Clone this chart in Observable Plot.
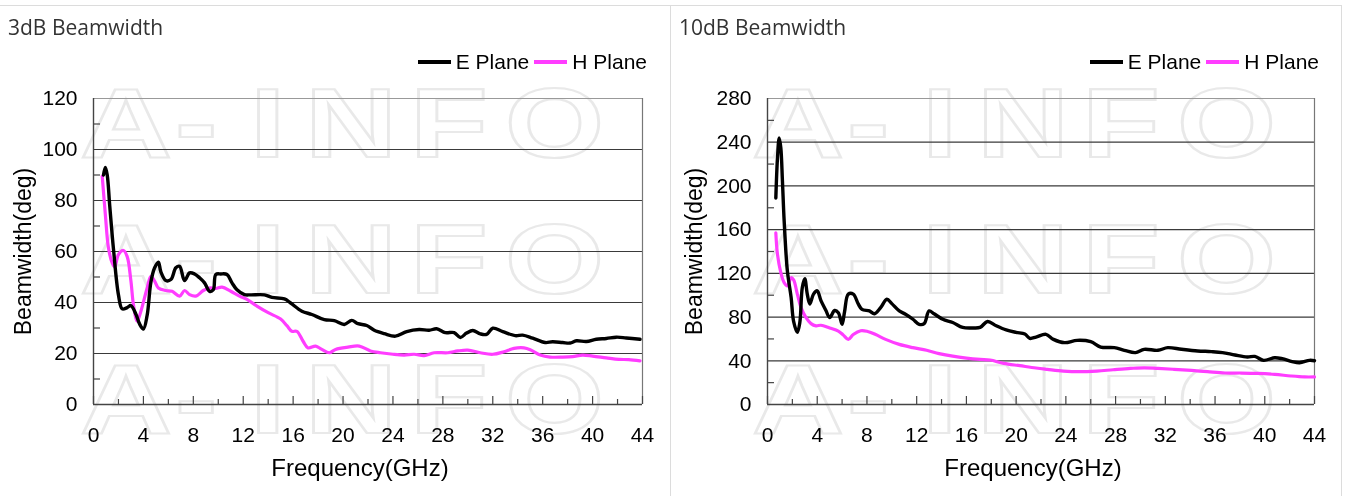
<!DOCTYPE html>
<html>
<head>
<meta charset="utf-8">
<script src="https://cdn.jsdelivr.net/npm/d3@7"></script>
<script src="https://cdn.jsdelivr.net/npm/@observablehq/plot@0.6"></script>
<style>
  html, body { margin: 0; padding: 0; background: #fff; }
  #root { position: relative; width: 1351px; height: 496px; overflow: hidden; }
  .frame { position: absolute; top: 5px; left: -1px; width: 1343px; height: 500px;
           border-top: 1px solid #dcdcdc; border-right: 1px solid #dcdcdc; box-sizing: border-box; }
  .divider { position: absolute; left: 670px; top: 5px; width: 1px; height: 491px; background: #dcdcdc; }
  .panel { position: absolute; top: 0; height: 496px; }
  .title { position: absolute; left: 8px; top: 13px; font: 21px "Open Sans", "Noto Sans", sans-serif; color: #333; }
  .legend { position: absolute; right: 23px; top: 50px; display: flex; align-items: center;
            font: 21px "Liberation Sans", Arial, sans-serif; color: #000; white-space: nowrap; }
  .legend .sw { display: inline-block; width: 33px; height: 4px; margin-right: 5px; }
  .legend .item { display: flex; align-items: center; }
  .legend .item + .item { margin-left: 5px; }
  .plotbox { position: absolute; top: 80px; left: 0; }
  #wm { position: absolute; left: 0; top: 0; }
</style>
</head>
<body>
<div id="root">
  <canvas id="wm" width="1351" height="496"></canvas>
  <div class="frame"></div>
  <div class="divider"></div>
</div>
<script>
// ---------- data ----------
const freqTicks = [0, 4, 8, 12, 16, 20, 24, 28, 32, 36, 40, 44];
const freqMinor = [2, 6, 10, 14, 18, 22, 26, 30, 34, 38, 42];
const yTicks3 = [0, 20, 40, 60, 80, 100, 120];
const yMinor3 = [10, 30, 50, 70, 90, 110];
const yTicks10 = [0, 40, 80, 120, 160, 200, 240, 280];
const yMinor10 = [20, 60, 100, 140, 180, 220, 260];
const seriesNames = ["E Plane", "H Plane"];
const seriesColors = ["#000000", "#ff3dff"];

// 3dB beamwidth, E plane
const e3Freq = [0.8,0.95,1.1,1.3,1.6,2.0,2.3,2.7,3.0,3.4,3.7,4.0,4.3,4.6,4.9,5.2,5.4,5.8,6.2,6.6,6.9,7.3,7.7,8.1,8.5,8.9,9.3,9.6,9.8,10.2,10.7,11.1,11.5,12.1,12.6,13.7,14.3,15.3,15.8,16.7,17.5,18.5,19.3,20.1,20.7,21.2,21.9,22.5,23.3,24.2,25.1,26.1,26.9,27.5,28.2,28.9,29.4,29.9,30.4,31.0,31.5,32.0,32.8,33.8,34.4,35.2,36.2,36.8,37.6,38.2,38.7,39.5,40.3,41.1,41.9,42.7,43.8];
const e3Val  = [90,93,90,78,61,43,37.5,38,38.8,35.4,31.5,29.6,35,48,53.6,55.8,52,48.6,49,53.6,54.2,48.6,51.6,51.2,49.7,47.7,44.4,45,51,51.2,51,47.7,45,43.1,43,43,42,41.4,39.8,36.6,35.3,33.3,32.9,31.4,33,31.7,31,29.1,27.8,26.8,28.6,29.4,29.1,29.7,28.2,28.2,26.3,28,29,27.7,27.5,29.9,28.6,27,27.2,26,24.3,24.6,24.3,24.1,25,24.7,25.6,25.9,26.4,26.1,25.6];
// 3dB beamwidth, H plane
const h3Freq = [0.7,0.95,1.2,1.5,1.7,2.0,2.4,2.7,3.0,3.2,3.5,3.8,4.3,4.6,4.9,5.2,5.8,6.3,6.9,7.3,7.7,8.2,8.8,9.3,9.8,10.3,11.0,11.7,12.3,13.1,14.0,15.0,15.5,15.9,16.3,16.8,17.2,17.8,18.3,18.9,19.4,20.4,21.3,22.2,23.0,24.0,24.9,25.7,26.5,27.3,28.4,29.2,30.0,31.0,32.0,32.9,33.7,34.5,35.0,35.8,36.6,37.6,38.4,39.2,40.0,41.1,42.1,42.9,43.8];
const h3Val  = [89.5,74.5,61.4,55.5,54,58.8,60.4,58,48.4,39.2,32.7,36.6,45.7,50.3,48.4,45.7,44.7,44.4,42.5,44.7,43.1,42.5,44.7,45.7,45.5,46,44.4,42.5,41.2,38.6,36,33.5,30.9,28.7,28.7,24.8,22.2,22.9,21.6,20.3,21.6,22.5,22.9,21,20.3,19.7,19.4,19.7,19.2,20.3,20.3,21,21.3,20.3,19.7,20.7,22,22.2,21.5,19.4,18.6,18.6,18.8,19.4,19,18.3,17.7,17.6,17.1];
// 10dB beamwidth, E plane
const e10Freq = [0.67,0.8,0.94,1.07,1.2,1.34,1.6,1.9,2.1,2.4,2.6,2.8,3.0,3.2,3.4,3.7,4.0,4.3,4.7,5.0,5.4,5.7,6.0,6.2,6.5,6.9,7.3,7.6,8.2,8.6,9.1,9.6,10.0,10.6,11.1,11.7,12.2,12.6,13.0,13.4,14.1,14.9,15.7,16.5,17.1,17.7,18.4,19.2,20.0,20.7,21.1,21.6,22.4,23.0,23.9,24.9,26.0,26.8,27.9,28.7,29.6,30.3,31.4,32.2,33.3,34.6,35.7,36.6,37.6,38.6,39.2,39.9,40.8,41.4,42.2,42.8,43.6,44];
const e10Val  = [189,225,244,235,205,168,122,98,76,66,75,107,115,101,92,101,104,95,86,79.5,86,84,73.4,85,101,101,92,87,85.6,83,88.6,96.3,92.3,85.6,82.6,78,73.4,74,85.6,83,78,75,70.5,70,70.5,76,72,68.2,66,64.5,60.5,61.7,64.2,59.6,56.6,58.7,57.5,52.6,52,49.6,47.5,50.5,49.6,52,50.5,49,48.4,47.5,45.3,43.5,44,40.4,42.8,41.9,39.2,38.2,40.4,40];
// 10dB beamwidth, H plane
const h10Freq = [0.67,0.8,1.07,1.34,1.6,1.9,2.1,2.4,2.7,3.1,3.5,3.9,4.3,5.0,5.7,6.1,6.5,6.9,7.5,8.0,8.7,9.5,10.6,11.7,12.8,13.8,14.9,16.0,17.1,17.9,19.0,20.3,21.6,22.5,23.8,25.1,26.5,27.8,29.2,30.3,31.4,32.7,34.1,35.4,36.8,38.1,39.4,40.8,42.1,43.2,44];
const h10Val  = [157,137.6,120.7,111.6,108.6,116,114,101,88.6,79.5,74,72,72.5,70,67.2,63.5,59.6,64,67.5,67,64,59.6,55,52,49.6,46.6,44.2,42.5,41.3,40.7,37.6,35.5,33.4,32.2,30.6,30,30.6,31.8,33,33.6,33,32.2,31.2,30,28.8,28.8,28.5,27.6,26.1,25.2,25.2];

// ---------- helpers ----------
const zip = (fs, vs) => fs.map((f, i) => ({f, v: vs[i]}));
const FONT = "'Liberation Sans', Arial, sans-serif";

function makePanel({left, width, title, ml, mr, yTicks, yMinor, eF, eV, hF, hV}) {
  const height = 410, mt = 18, mb = 86;
  const yMax = yTicks[yTicks.length - 1];
  const pxX = (width - ml - mr) / 44;
  const pxY = (height - mt - mb) / yMax;
  const eData = zip(eF, eV), hData = zip(hF, hV);

  const plot = Plot.plot({
    width, height,
    marginTop: mt, marginBottom: mb, marginLeft: ml, marginRight: mr,
    x: {domain: [0, 44]},
    y: {domain: [0, yMax]},
    style: {fontFamily: FONT, fontSize: "21px", background: "transparent", color: "#000", overflow: "visible"},
    marks: [
      Plot.ruleY(yTicks.slice(1, -1), {stroke: "#3a3a3a", strokeWidth: 1.2}),
      Plot.ruleY([yMax], {stroke: "#999", strokeWidth: 1.2}),
      Plot.ruleX([44], {stroke: "#777", strokeWidth: 1.2}),
      Plot.ruleY(yMinor, {x1: 0, x2: 7 / pxX, stroke: "#444", strokeWidth: 1.2}),
      Plot.ruleX(freqTicks, {y1: 0, y2: 8 / pxY, stroke: "#444", strokeWidth: 1.2}),
      Plot.ruleX(freqMinor, {y1: 0, y2: 5 / pxY, stroke: "#444", strokeWidth: 1.2}),
      Plot.ruleX([0], {stroke: "#444", strokeWidth: 1.4}),
      Plot.ruleY([0], {stroke: "#444", strokeWidth: 1.4}),
      Plot.axisY({ticks: yTicks, tickSize: 0, tickPadding: 16, label: null, fontSize: 21}),
      Plot.axisX({ticks: freqTicks, tickSize: 0, tickPadding: 23, label: null, fontSize: 21}),
      Plot.text(["Frequency(GHz)"], {frameAnchor: "bottom", dx: -8, dy: 64, fontSize: 24, lineAnchor: "middle", textAnchor: "middle"}),
      Plot.text(["Beamwidth(deg)"], {frameAnchor: "left", dx: -(ml - 23), rotate: -90, fontSize: 23, lineAnchor: "middle", textAnchor: "middle"}),
      Plot.line(hData, {x: "f", y: "v", stroke: seriesColors[1], strokeWidth: 3.2, curve: "catmull-rom"}),
      Plot.line(eData, {x: "f", y: "v", stroke: seriesColors[0], strokeWidth: 3.4, curve: "catmull-rom"})
    ]
  });

  const panel = document.createElement("div");
  panel.className = "panel";
  panel.style.left = left + "px";
  panel.style.width = width + "px";

  const t = document.createElement("div");
  t.className = "title";
  t.textContent = title;
  panel.appendChild(t);

  const lg = document.createElement("div");
  lg.className = "legend";
  seriesNames.forEach((name, i) => {
    const it = document.createElement("span");
    it.className = "item";
    const sw = document.createElement("span");
    sw.className = "sw";
    sw.style.background = seriesColors[i];
    it.appendChild(sw);
    it.appendChild(document.createTextNode(name));
    lg.appendChild(it);
  });
  panel.appendChild(lg);

  const box = document.createElement("div");
  box.className = "plotbox";
  box.appendChild(plot);
  panel.appendChild(box);
  document.getElementById("root").appendChild(panel);
}

// ---------- faint background watermark (decorative image layer) ----------
(function drawWatermark() {
  const ctx = document.getElementById("wm").getContext("2d");
  ctx.strokeStyle = "#e9e9e9";
  ctx.lineWidth = 2.2;
  ctx.font = "bold 98px 'Liberation Sans', Arial, sans-serif";
  const letters = ["A", "-", "I", "N", "F", "O"];
  const offsets = [0, 95, 170, 225, 330, 425]; // relative letter starts
  [80, 752].forEach(x0 => {
    [157, 293, 433].forEach(y => {
      letters.forEach((ch, i) => {
        ctx.save();
        ctx.translate(x0 + offsets[i], y);
        ctx.scale(1.3, 1);
        ctx.strokeText(ch, 0, 0);
        ctx.restore();
      });
    });
  });
})();

makePanel({left: 0, width: 670, title: "3dB Beamwidth", ml: 93, mr: 28,
  yTicks: yTicks3, yMinor: yMinor3, eF: e3Freq, eV: e3Val, hF: h3Freq, hV: h3Val});
makePanel({left: 671, width: 671, title: "10dB Beamwidth", ml: 96, mr: 28,
  yTicks: yTicks10, yMinor: yMinor10, eF: e10Freq, eV: e10Val, hF: h10Freq, hV: h10Val});
</script>
</body>
</html>
